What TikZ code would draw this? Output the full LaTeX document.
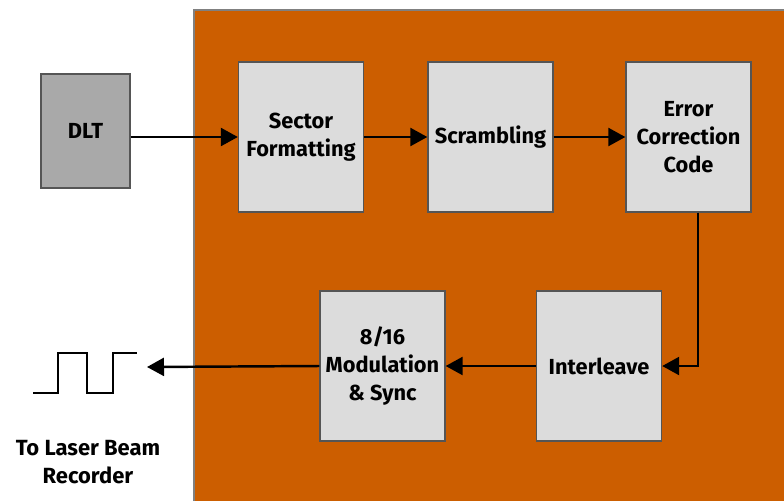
\documentclass[tikz,border=0pt]{standalone}
\usepackage{fontspec}
\setmainfont{Fira Sans}
\usetikzlibrary{arrows.meta,
                positioning
            }

\definecolor{burnt}{HTML}{CC5E00}
\definecolor{boxgray}{HTML}{DCDCDC}
\definecolor{dltgray}{HTML}{A9A9A9}
\definecolor{edgegray}{HTML}{555555}

\tikzset{
    block/.style={draw=edgegray, line width=0.8pt, fill=boxgray, align=center,
                  inner sep=1pt, minimum width=2.5cm, minimum height=3cm,
                  font=\bfseries\fontsize{12.4}{16}\selectfont},
    flow/.style={line width=1.4pt, -{Triangle[length=0.34cm, width=0.36cm]}}
}

\begin{document}
\begin{tikzpicture}[x=0.02cm, y=-0.02cm]
            \useasboundingbox (0, 0) rectangle (784, 501);
            \fill[white] (0, 0) rectangle (784, 501);
            \fill[burnt] (194, 10) rectangle (784, 501);
            \draw[gray, line width=0.8pt] (194, 501) -- (194, 10) -- (784, 10);

            \node[block, fill=dltgray, minimum width=1.78cm, minimum height=2.28cm] (dlt) at (85.5, 131) {DLT};
            \node[block] (sector) at (301, 137) {Sector\\Formatting};
            \node[block] (scramb) at (490.5, 137) {Scrambling};
            \node[block] (ecc) at (688.5, 137) {Error\\Correction\\Code};
            \node[block] (inter) at (599, 366) {Interleave};
            \node[block] (modul) at (382.5, 366) {8/16\\Modulation\\\& Sync};

            \coordinate (out) at (147, 367);
            \draw[flow] (dlt.east |- sector.west) -- (sector.west);
            \draw[flow] (sector) -- (scramb);
            \draw[flow] (scramb) -- (ecc);
            \draw[flow] ([xshift=0.19cm]ecc.south) |- (inter.east);
            \draw[flow] (inter) -- (modul);
            \draw[flow] (modul.west) -- (out);

            % pulse train
            \draw[line width=1.5pt] (33, 393) -- (58, 393) -- (58, 353) -- (87, 353)
                -- (87, 393) -- (113, 393) -- (113, 353) -- (137, 353);
            \node[font=\bfseries\fontsize{12.5}{15.5}\selectfont, align=center] (label) at (88, 462) {To Laser Beam\\Recorder};
        \end{tikzpicture}
\end{document}
